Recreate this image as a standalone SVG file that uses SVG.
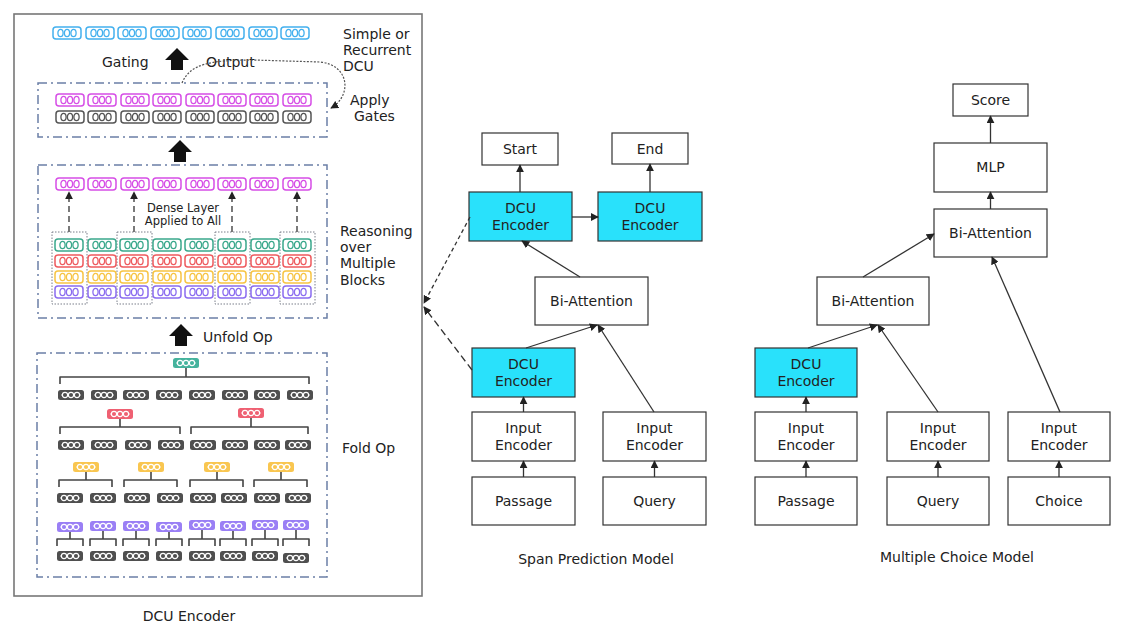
<svg xmlns="http://www.w3.org/2000/svg" xmlns:xlink="http://www.w3.org/1999/xlink" width="1127" height="627" viewBox="0 0 1127 627">
<style>
text{font-family:"DejaVu Sans","Verdana",sans-serif;font-size:14px;fill:#222}
.c{text-anchor:middle}
.small{font-size:11.5px}
.box{fill:#fff;stroke:#333;stroke-width:1.2}
.cyan{fill:#29e1fb;stroke:#333;stroke-width:1.2}
.dd{fill:none;stroke:#6b7fa6;stroke-width:1.5;stroke-dasharray:9 4 2 4}
.dot{fill:none;stroke:#7a7f8a;stroke-width:1;stroke-dasharray:1.5 1.5}
.br{fill:none;stroke:#444;stroke-width:1.6;stroke-linejoin:round}
.ar{fill:none;stroke:#333;stroke-width:1.3;marker-end:url(#ah)}
.bl{color:#43b0ee}.mg{color:#d64ee6}.gy{color:#555}.tl{color:#3aa88c}.rd{color:#ee5a5e}.yl{color:#f7c443}.pu{color:#8b6cf0}
.ftl{color:#45b39d}.frd{color:#ef6072}.fyl{color:#f9c650}.fpu{color:#9a7ff5}.fgy{color:#4f4f4f}
</style>
<defs>
<marker id="ah" viewBox="0 0 10 10" refX="9" refY="5" markerWidth="8" markerHeight="8" markerUnits="userSpaceOnUse" orient="auto">
<path d="M0,0 L10,5 L0,10 Z" fill="#222"/>
</marker>
<g id="chipO">
<rect x="0" y="0" width="28" height="12" rx="3" fill="#fff" stroke="currentColor" stroke-width="1.5"/>
<ellipse cx="7.5" cy="6" rx="2.6" ry="3.6" fill="none" stroke="currentColor" stroke-width="1.3"/>
<ellipse cx="14" cy="6" rx="2.6" ry="3.6" fill="none" stroke="currentColor" stroke-width="1.3"/>
<ellipse cx="20.5" cy="6" rx="2.6" ry="3.6" fill="none" stroke="currentColor" stroke-width="1.3"/>
</g>
<g id="chipF">
<rect x="0" y="0" width="26" height="10" rx="2.5" fill="currentColor"/>
<line x1="3" y1="5" x2="23" y2="5" stroke="#fff" stroke-width="0.8"/>
<circle cx="7" cy="5" r="2.6" fill="currentColor" stroke="#fff" stroke-width="1.1"/>
<circle cx="13" cy="5" r="2.6" fill="currentColor" stroke="#fff" stroke-width="1.1"/>
<circle cx="19" cy="5" r="2.6" fill="currentColor" stroke="#fff" stroke-width="1.1"/>
</g>
<path id="bigArrow" d="M0,0 L12,12 L6,12 L6,22 L-6,22 L-6,12 L-12,12 Z" fill="#111"/>
</defs>

<!-- ===== Left panel: DCU Encoder ===== -->
<g id="dcu-panel">
<rect x="14" y="14" width="408" height="582" fill="#fff" stroke="#777" stroke-width="1.6"/>
<text x="189" y="621" class="c">DCU Encoder</text>
</g>

<g id="output-row">
<use href="#chipO" x="53" y="27" class="bl"/>
<use href="#chipO" x="86" y="27" class="bl"/>
<use href="#chipO" x="118" y="27" class="bl"/>
<use href="#chipO" x="151" y="27" class="bl"/>
<use href="#chipO" x="183" y="27" class="bl"/>
<use href="#chipO" x="216" y="27" class="bl"/>
<use href="#chipO" x="249" y="27" class="bl"/>
<use href="#chipO" x="281" y="27" class="bl"/>
<text x="343" y="39">Simple or</text>
<text x="343" y="55">Recurrent</text>
<text x="343" y="71">DCU</text>
<text x="102" y="67">Gating</text>
<text x="206" y="67">Output</text>
<use href="#bigArrow" x="177" y="48"/>
</g>

<g id="apply-gates">
<rect x="38" y="83" width="289" height="54" class="dd"/>
<use href="#chipO" x="56" y="94" class="mg"/>
<use href="#chipO" x="88" y="94" class="mg"/>
<use href="#chipO" x="121" y="94" class="mg"/>
<use href="#chipO" x="153" y="94" class="mg"/>
<use href="#chipO" x="186" y="94" class="mg"/>
<use href="#chipO" x="218" y="94" class="mg"/>
<use href="#chipO" x="250" y="94" class="mg"/>
<use href="#chipO" x="283" y="94" class="mg"/>
<use href="#chipO" x="56" y="111" class="gy"/>
<use href="#chipO" x="88" y="111" class="gy"/>
<use href="#chipO" x="121" y="111" class="gy"/>
<use href="#chipO" x="153" y="111" class="gy"/>
<use href="#chipO" x="186" y="111" class="gy"/>
<use href="#chipO" x="218" y="111" class="gy"/>
<use href="#chipO" x="250" y="111" class="gy"/>
<use href="#chipO" x="283" y="111" class="gy"/>
<text x="350" y="105">Apply</text>
<text x="354" y="121">Gates</text>
<use href="#bigArrow" x="180" y="140"/>
</g>

<g id="reasoning">
<rect x="38" y="165" width="289" height="153" class="dd"/>
<use href="#chipO" x="56" y="178" class="mg"/>
<use href="#chipO" x="88" y="178" class="mg"/>
<use href="#chipO" x="121" y="178" class="mg"/>
<use href="#chipO" x="153" y="178" class="mg"/>
<use href="#chipO" x="186" y="178" class="mg"/>
<use href="#chipO" x="218" y="178" class="mg"/>
<use href="#chipO" x="250" y="178" class="mg"/>
<use href="#chipO" x="283" y="178" class="mg"/>
<text x="183" y="212" class="c small">Dense Layer</text>
<text x="183" y="225" class="c small">Applied to All</text>
<rect x="52" y="232" width="35" height="72" class="dot"/>
<rect x="117" y="232" width="35" height="72" class="dot"/>
<rect x="215" y="232" width="35" height="72" class="dot"/>
<rect x="280" y="232" width="35" height="72" class="dot"/>
<use href="#chipO" x="55" y="239" class="tl"/><use href="#chipO" x="88" y="239" class="tl"/><use href="#chipO" x="120" y="239" class="tl"/><use href="#chipO" x="153" y="239" class="tl"/><use href="#chipO" x="185" y="239" class="tl"/><use href="#chipO" x="218" y="239" class="tl"/><use href="#chipO" x="251" y="239" class="tl"/><use href="#chipO" x="283" y="239" class="tl"/>
<use href="#chipO" x="55" y="255" class="rd"/><use href="#chipO" x="88" y="255" class="rd"/><use href="#chipO" x="120" y="255" class="rd"/><use href="#chipO" x="153" y="255" class="rd"/><use href="#chipO" x="185" y="255" class="rd"/><use href="#chipO" x="218" y="255" class="rd"/><use href="#chipO" x="251" y="255" class="rd"/><use href="#chipO" x="283" y="255" class="rd"/>
<use href="#chipO" x="55" y="271" class="yl"/><use href="#chipO" x="88" y="271" class="yl"/><use href="#chipO" x="120" y="271" class="yl"/><use href="#chipO" x="153" y="271" class="yl"/><use href="#chipO" x="185" y="271" class="yl"/><use href="#chipO" x="218" y="271" class="yl"/><use href="#chipO" x="251" y="271" class="yl"/><use href="#chipO" x="283" y="271" class="yl"/>
<use href="#chipO" x="55" y="286" class="pu"/><use href="#chipO" x="88" y="286" class="pu"/><use href="#chipO" x="120" y="286" class="pu"/><use href="#chipO" x="153" y="286" class="pu"/><use href="#chipO" x="185" y="286" class="pu"/><use href="#chipO" x="218" y="286" class="pu"/><use href="#chipO" x="251" y="286" class="pu"/><use href="#chipO" x="283" y="286" class="pu"/>
<text x="340" y="236">Reasoning</text>
<text x="340" y="252">over</text>
<text x="340" y="268">Multiple</text>
<text x="340" y="285">Blocks</text>
<use href="#bigArrow" x="181" y="324"/>
<text x="203" y="342">Unfold Op</text>
</g>

<g id="fold">
<rect x="37" y="353" width="290" height="224" class="dd"/>
<text x="342" y="453">Fold Op</text>
<use href="#chipF" x="173" y="358" class="ftl"/>
<path class="br" d="M186,368 V377 M60,384 V377 H309 V384"/>
<use href="#chipF" x="58" y="390" class="fgy"/><use href="#chipF" x="91" y="390" class="fgy"/><use href="#chipF" x="123" y="390" class="fgy"/><use href="#chipF" x="156" y="390" class="fgy"/><use href="#chipF" x="189" y="390" class="fgy"/><use href="#chipF" x="222" y="390" class="fgy"/><use href="#chipF" x="254" y="390" class="fgy"/><use href="#chipF" x="287" y="390" class="fgy"/>
<use href="#chipF" x="107" y="409" class="frd"/>
<use href="#chipF" x="238" y="408" class="frd"/>
<path class="br" d="M120,419 V427 M60,434 V427 H180 V434 M251,418 V427 M191,434 V427 H308 V434"/>
<use href="#chipF" x="58" y="440" class="fgy"/><use href="#chipF" x="91" y="440" class="fgy"/><use href="#chipF" x="125" y="440" class="fgy"/><use href="#chipF" x="158" y="440" class="fgy"/><use href="#chipF" x="190" y="440" class="fgy"/><use href="#chipF" x="222" y="440" class="fgy"/><use href="#chipF" x="254" y="440" class="fgy"/><use href="#chipF" x="285" y="440" class="fgy"/>
<use href="#chipF" x="73" y="462" class="fyl"/><use href="#chipF" x="138" y="462" class="fyl"/><use href="#chipF" x="204" y="462" class="fyl"/><use href="#chipF" x="268" y="462" class="fyl"/>
<path class="br" d="M86,472 V480 M59,487 V480 H112 V487 M151,472 V480 M124,487 V480 H177 V487 M217,472 V480 M190,487 V480 H243 V487 M281,472 V480 M254,487 V480 H307 V487"/>
<use href="#chipF" x="57" y="493" class="fgy"/><use href="#chipF" x="90" y="493" class="fgy"/><use href="#chipF" x="124" y="493" class="fgy"/><use href="#chipF" x="157" y="493" class="fgy"/><use href="#chipF" x="190" y="493" class="fgy"/><use href="#chipF" x="221" y="493" class="fgy"/><use href="#chipF" x="254" y="493" class="fgy"/><use href="#chipF" x="285" y="493" class="fgy"/>
<use href="#chipF" x="57" y="522" class="fpu"/><use href="#chipF" x="90" y="521" class="fpu"/><use href="#chipF" x="123" y="521" class="fpu"/><use href="#chipF" x="156" y="522" class="fpu"/><use href="#chipF" x="189" y="520" class="fpu"/><use href="#chipF" x="220" y="521" class="fpu"/><use href="#chipF" x="252" y="520" class="fpu"/><use href="#chipF" x="283" y="520" class="fpu"/>
<path class="br" d="M70,532 V539 M57,546 V539 H83 V546 M103,531 V539 M90,546 V539 H116 V546 M136,531 V539 M123,546 V539 H149 V546 M169,532 V539 M156,546 V539 H182 V546 M202,530 V539 M189,546 V539 H215 V546 M233,531 V539 M220,546 V539 H246 V546 M265,530 V539 M252,546 V539 H278 V546 M296,530 V539 M283,546 V539 H309 V546"/>
<use href="#chipF" x="57" y="551" class="fgy"/><use href="#chipF" x="90" y="551" class="fgy"/><use href="#chipF" x="123" y="551" class="fgy"/><use href="#chipF" x="156" y="551" class="fgy"/><use href="#chipF" x="189" y="551" class="fgy"/><use href="#chipF" x="220" y="551" class="fgy"/><use href="#chipF" x="252" y="551" class="fgy"/><use href="#chipF" x="283" y="553" class="fgy"/>
</g>

<!-- ===== Span Prediction Model ===== -->
<g id="sp-start"><rect x="482" y="133" width="76" height="32" class="box"/><text x="520" y="154" class="c">Start</text></g>
<g id="sp-end"><rect x="612" y="133" width="76" height="31" class="box"/><text x="650" y="154" class="c">End</text></g>
<g id="sp-dcu1"><rect x="469" y="192" width="103" height="49" class="cyan"/><text x="520.5" y="213" class="c">DCU</text><text x="520.5" y="230" class="c">Encoder</text></g>
<g id="sp-dcu2"><rect x="598" y="192" width="104" height="49" class="cyan"/><text x="650" y="213" class="c">DCU</text><text x="650" y="230" class="c">Encoder</text></g>
<g id="sp-biatt"><rect x="535" y="277" width="113" height="48" class="box"/><text x="591.5" y="306" class="c">Bi-Attention</text></g>
<g id="sp-dcu3"><rect x="472" y="348" width="103" height="49" class="cyan"/><text x="523.5" y="369" class="c">DCU</text><text x="523.5" y="386" class="c">Encoder</text></g>
<g id="sp-input1"><rect x="472" y="412" width="103" height="49" class="box"/><text x="523.5" y="433" class="c">Input</text><text x="523.5" y="450" class="c">Encoder</text></g>
<g id="sp-passage"><rect x="472" y="477" width="103" height="48" class="box"/><text x="523.5" y="506" class="c">Passage</text></g>
<g id="sp-input2"><rect x="603" y="412" width="103" height="49" class="box"/><text x="654.5" y="433" class="c">Input</text><text x="654.5" y="450" class="c">Encoder</text></g>
<g id="sp-query"><rect x="603" y="477" width="103" height="48" class="box"/><text x="654.5" y="506" class="c">Query</text></g>
<text x="596" y="564" class="c">Span Prediction Model</text>

<!-- ===== Multiple Choice Model ===== -->
<g id="mc-score"><rect x="953" y="84" width="75" height="32" class="box"/><text x="990.5" y="105" class="c">Score</text></g>
<g id="mc-mlp"><rect x="934" y="143" width="113" height="49" class="box"/><text x="990.5" y="172" class="c">MLP</text></g>
<g id="mc-biatt2"><rect x="934" y="209" width="113" height="48" class="box"/><text x="990.5" y="238" class="c">Bi-Attention</text></g>
<g id="mc-biatt1"><rect x="817" y="277" width="112" height="48" class="box"/><text x="873" y="306" class="c">Bi-Attention</text></g>
<g id="mc-dcu"><rect x="755" y="348" width="102" height="49" class="cyan"/><text x="806" y="369" class="c">DCU</text><text x="806" y="386" class="c">Encoder</text></g>
<g id="mc-input1"><rect x="755" y="412" width="102" height="49" class="box"/><text x="806" y="433" class="c">Input</text><text x="806" y="450" class="c">Encoder</text></g>
<g id="mc-passage"><rect x="755" y="477" width="102" height="48" class="box"/><text x="806" y="506" class="c">Passage</text></g>
<g id="mc-input2"><rect x="887" y="412" width="102" height="49" class="box"/><text x="938" y="433" class="c">Input</text><text x="938" y="450" class="c">Encoder</text></g>
<g id="mc-query"><rect x="887" y="477" width="102" height="48" class="box"/><text x="938" y="506" class="c">Query</text></g>
<g id="mc-input3"><rect x="1008" y="412" width="102" height="49" class="box"/><text x="1059" y="433" class="c">Input</text><text x="1059" y="450" class="c">Encoder</text></g>
<g id="mc-choice"><rect x="1008" y="477" width="102" height="48" class="box"/><text x="1059" y="506" class="c">Choice</text></g>
<text x="957" y="562" class="c">Multiple Choice Model</text>

<!-- ===== Connectors ===== -->
<g id="connectors">
<path class="ar" d="M69,232 V192" stroke-dasharray="6 4"/>
<path class="ar" d="M134,232 V192" stroke-dasharray="6 4"/>
<path class="ar" d="M232,232 V192" stroke-dasharray="6 4"/>
<path class="ar" d="M297,232 V192" stroke-dasharray="6 4"/>
<path d="M182,83 C190,64 210,60 253,60 L320,62 C350,65 352,96 331,108" fill="none" stroke="#555" stroke-width="1.2" stroke-dasharray="2 1.5" marker-end="url(#ah)"/>
<path class="ar" d="M470,217 L424,303" stroke-dasharray="4 3"/>
<path class="ar" d="M472,370 L424,307" stroke-dasharray="7 4"/>
<path class="ar" d="M520,192 V165"/>
<path class="ar" d="M650,192 V164"/>
<path class="ar" d="M572,217 H598"/>
<path class="ar" d="M580,277 L522,241"/>
<path class="ar" d="M526,348 L597,325"/>
<path class="ar" d="M654,412 L598,325"/>
<path class="ar" d="M523.5,477 V461"/>
<path class="ar" d="M523.5,412 V397"/>
<path class="ar" d="M654.5,477 V461"/>
<path class="ar" d="M806,477 V461"/>
<path class="ar" d="M806,412 V397"/>
<path class="ar" d="M938,477 V461"/>
<path class="ar" d="M1059,477 V461"/>
<path class="ar" d="M808,348 L877,325"/>
<path class="ar" d="M938,412 L878,325"/>
<path class="ar" d="M1060,412 L992,257"/>
<path class="ar" d="M863,277 L934,234"/>
<path class="ar" d="M990.5,209 V192"/>
<path class="ar" d="M990.5,143 V116"/>
</g>
</svg>
